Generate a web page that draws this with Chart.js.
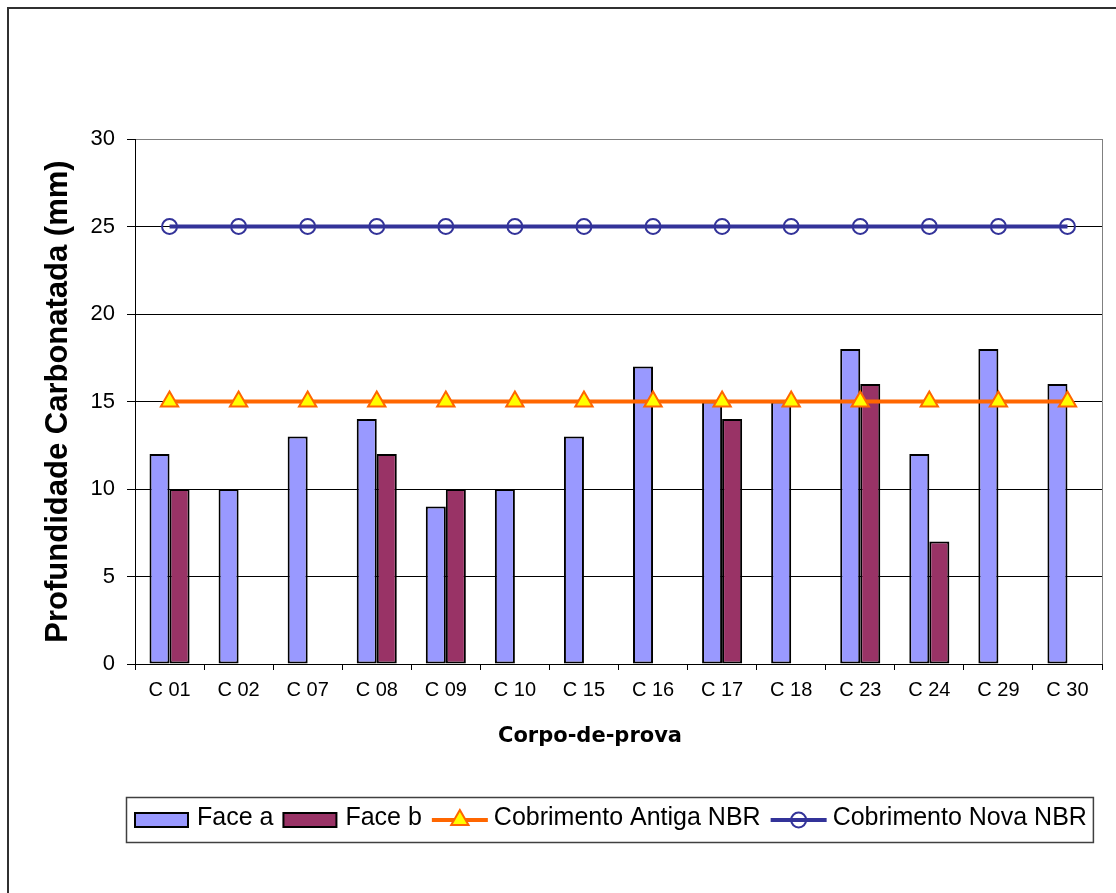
<!DOCTYPE html>
<html>
<head>
<meta charset="utf-8">
<title>Profundidade Carbonatada</title>
<script src="https://cdn.jsdelivr.net/npm/chart.js@4/dist/chart.umd.min.js"></script>
<style>
  html, body { margin: 0; padding: 0; background: #fff; }
  canvas { display: block; }
</style>
</head>
<body>
<canvas id="chart" width="1116" height="893"></canvas>
<script>
// Specimens (corpos-de-prova) and carbonation depth measured on each face, in mm
const categories = ['C 01', 'C 02', 'C 07', 'C 08', 'C 09', 'C 10', 'C 15', 'C 16', 'C 17', 'C 18', 'C 23', 'C 24', 'C 29', 'C 30'];
const faceA = [12, 10, 13, 14, 9, 10, 13, 17, 15, 15, 18, 12, 18, 16];
const faceB = [10, null, null, 12, 10, null, null, null, 14, null, 16, 7, null, null];
// Concrete cover required by the old and the new NBR standard, in mm
const cobrimentoAntiga = [15, 15, 15, 15, 15, 15, 15, 15, 15, 15, 15, 15, 15, 15];
const cobrimentoNova = [25, 25, 25, 25, 25, 25, 25, 25, 25, 25, 25, 25, 25, 25];
// Value axis range
const yMin = 0;
const yMax = 30;
const yStep = 5;

const SANS = '"Liberation Sans", Arial, sans-serif';

// Frame, plot border, x-axis title and boxed legend
const decorations = {
  id: 'decorations',
  beforeDraw(chart) {
    const ctx = chart.ctx;
    ctx.save();
    ctx.fillStyle = '#fff';
    ctx.fillRect(0, 0, chart.width, chart.height);
    ctx.restore();
  },
  beforeDatasetsDraw(chart) {
    const { ctx, chartArea } = chart;
    ctx.save();
    ctx.strokeStyle = '#808080';
    ctx.lineWidth = 1;
    ctx.beginPath();
    ctx.moveTo(Math.round(chartArea.right) + 0.5, chartArea.top);
    ctx.lineTo(Math.round(chartArea.right) + 0.5, chartArea.bottom);
    ctx.stroke();
    ctx.restore();
  },
  afterDraw(chart) {
    const ctx = chart.ctx;
    ctx.save();

    // outer frame
    ctx.strokeStyle = '#303030';
    ctx.lineWidth = 2;
    ctx.beginPath();
    ctx.moveTo(8, chart.height + 5);
    ctx.lineTo(8, 8);
    ctx.lineTo(chart.width + 5, 8);
    ctx.stroke();

    // x-axis title
    ctx.fillStyle = '#000';
    ctx.font = 'bold 21px "DejaVu Sans", Verdana, sans-serif';
    ctx.textAlign = 'center';
    ctx.textBaseline = 'middle';
    ctx.fillText('Corpo-de-prova', 590, 737);

    // legend
    const ds = chart.data.datasets;
    const boxLeft = 126, boxTop = 797, boxH = 45;
    const cy = boxTop + 23;
    ctx.font = '25px ' + SANS;
    ctx.textAlign = 'left';
    let x = 135;
    ds.forEach((d, i) => {
      if (d.type !== 'line') {
        ctx.fillStyle = d.backgroundColor;
        ctx.fillRect(x, cy - 7, 53, 14);
        ctx.strokeStyle = '#000';
        ctx.lineWidth = 2;
        ctx.strokeRect(x, cy - 7, 53, 14);
        x += 53 + 9;
      } else {
        ctx.strokeStyle = d.borderColor;
        ctx.lineWidth = d.borderWidth;
        ctx.beginPath();
        ctx.moveTo(x, cy);
        ctx.lineTo(x + 56, cy);
        ctx.stroke();
        const mx = x + 28;
        ctx.lineWidth = d.pointBorderWidth;
        ctx.strokeStyle = d.pointBorderColor;
        if (d.pointStyle === 'triangle') {
          const r = d.pointRadius;
          ctx.beginPath();
          ctx.moveTo(mx, cy - r);
          ctx.lineTo(mx + r * 0.866, cy + r * 0.5);
          ctx.lineTo(mx - r * 0.866, cy + r * 0.5);
          ctx.closePath();
          ctx.fillStyle = d.pointBackgroundColor;
          ctx.fill();
          ctx.stroke();
        } else {
          ctx.beginPath();
          ctx.arc(mx, cy, d.pointRadius, 0, Math.PI * 2);
          ctx.stroke();
        }
        x += 56 + 6;
      }
      ctx.fillStyle = '#000';
      ctx.fillText(d.label, x, cy - 2);
      x += ctx.measureText(d.label).width + (i < ds.length - 1 ? 10 : 6);
    });
    ctx.strokeStyle = '#404040';
    ctx.lineWidth = 1.5;
    ctx.strokeRect(boxLeft + 0.5, boxTop + 0.5, x - boxLeft, boxH);

    ctx.restore();
  }
};

new Chart(document.getElementById('chart'), {
  type: 'bar',
  data: {
    labels: categories,
    datasets: [
      {
        label: 'Face a',
        data: faceA,
        backgroundColor: '#9999FF',
        borderColor: '#000',
        borderWidth: 2,
        borderSkipped: false,
        order: 1
      },
      {
        label: 'Face b',
        data: faceB,
        backgroundColor: '#993366',
        borderColor: '#000',
        borderWidth: 2,
        borderSkipped: false,
        order: 1
      },
      {
        type: 'line',
        label: 'Cobrimento Antiga NBR',
        data: cobrimentoAntiga,
        borderColor: '#FF6600',
        borderWidth: 4,
        fill: false,
        pointStyle: 'triangle',
        pointRadius: 10,
        pointBackgroundColor: '#FFFF00',
        pointBorderColor: '#FF6600',
        pointBorderWidth: 2,
        order: 0
      },
      {
        type: 'line',
        label: 'Cobrimento Nova NBR',
        data: cobrimentoNova,
        borderColor: '#333399',
        borderWidth: 4,
        fill: false,
        pointStyle: 'circle',
        pointRadius: 7.5,
        pointBackgroundColor: 'rgba(0,0,0,0)',
        pointBorderColor: '#333399',
        pointBorderWidth: 2,
        order: 0
      }
    ]
  },
  options: {
    responsive: false,
    animation: false,
    devicePixelRatio: 1,
    layout: { padding: { left: 0, right: 14, top: 139, bottom: 143 } },
    datasets: { bar: { categoryPercentage: 0.58, barPercentage: 1 } },
    plugins: {
      legend: { display: false },
      tooltip: { enabled: false }
    },
    scales: {
      x: {
        offset: true,
        grid: { drawOnChartArea: false, drawTicks: true, tickLength: 6, color: '#000', offset: true },
        border: { color: '#000', width: 1 },
        ticks: { color: '#000', font: { family: SANS, size: 20 }, padding: 8, maxRotation: 0, autoSkip: false },
        afterFit(scale) { scale.height = 86; }
      },
      y: {
        min: yMin,
        max: yMax,
        ticks: { stepSize: yStep, color: '#000', font: { family: SANS, size: 22 }, padding: 12 },
        grid: {
          color: (c) => (c.tick && c.tick.value === yMax ? '#808080' : '#000'),
          tickColor: '#000',
          tickLength: 8
        },
        border: { color: '#000', width: 1 },
        title: {
          display: true,
          text: 'Profundidade Carbonatada (mm)',
          color: '#000',
          font: { family: SANS, size: 31, weight: 'bold' },
          padding: { top: 40, bottom: 0 }
        },
        afterFit(scale) { scale.width = 135; }
      }
    }
  },
  plugins: [decorations]
});
</script>
</body>
</html>
